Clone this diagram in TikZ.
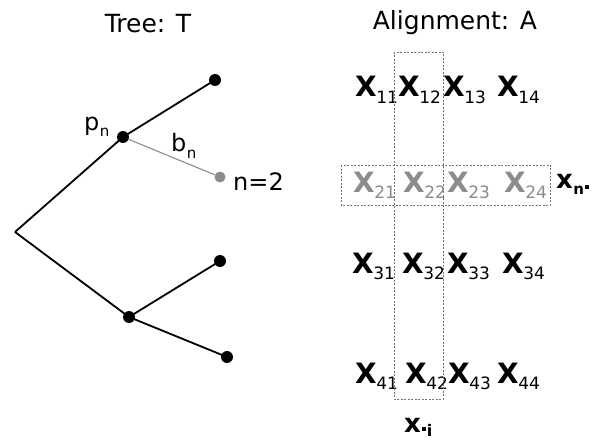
\documentclass[tikz,border=0pt]{standalone}
\usepackage{fontspec}
\setmainfont{DejaVu Sans}
\definecolor{lgray}{gray}{0.55}
\definecolor{bgray}{gray}{0.45}
\newcommand{\xsub}[2]{\textbf{#1}\kern-0.5pt\raisebox{-6pt}{\fontsize{17}{17}\selectfont #2}}
\newcommand{\lsub}[2]{#1\kern0.5pt\raisebox{-6pt}{\fontsize{15}{15}\selectfont #2}}
\newcommand{\sqdot}{\rule[5pt]{4pt}{4pt}}
\begin{document}
\begin{tikzpicture}[x=1pt,y=-1pt,
  dot/.style={circle,fill=black,inner sep=0pt,minimum size=12pt},
  gdot/.style={circle,fill=lgray,inner sep=0pt,minimum size=11pt},
  edge/.style={line width=1.8pt,black},
  gedge/.style={line width=1.1pt,lgray},
  title/.style={font=\fontsize{25}{25}\selectfont,anchor=base},
  lab/.style={font=\fontsize{24}{24}\selectfont,anchor=base west,inner sep=0pt},
  xel/.style={font=\fontsize{28}{28}\selectfont,anchor=base west,inner sep=0pt},
  gxel/.style={xel,text=lgray},
  rcl/.style={font=\fontsize{26}{26}\selectfont\bfseries,anchor=base west,inner sep=0pt},
  dbox/.style={draw=bgray,line width=0.7pt,dash pattern=on 2pt off 1.5pt}]
\useasboundingbox (0,0) rectangle (606,444);
% titles
\node[title] (tt) at (148,33) {Tree: T};
\node[title] (at) at (455,30) {Alignment: A};
% tree
\coordinate (root) at (15,232);
\node[dot] (pn) at (123,137) {};
\node[dot] (l1) at (215,80) {};
\node[gdot] (n2) at (220,177) {};
\node[dot] (q) at (129,317) {};
\node[dot] (l2) at (220,261) {};
\node[dot] (l3) at (227,357) {};
\draw[edge] (root) -- (pn.center) -- (l1.center);
\draw[edge] (root) -- (q.center) -- (l2.center);
\draw[edge] (q.center) -- (l3.center);
\draw[gedge] (pn) -- (n2);
\node[lab] (pnl) at (84,131) {\lsub{p}{n}};
\node[lab] (bnl) at (171,152) {\lsub{b}{n}};
\node[lab] (n2l) at (233,190) {n=2};
% alignment grid
\node[xel] (x11) at (355,97) {\xsub{X}{11}};
\node[xel] (x12) at (398,97) {\xsub{X}{12}};
\node[xel] (x13) at (443,97) {\xsub{X}{13}};
\node[xel] (x14) at (497,97) {\xsub{X}{14}};
\node[gxel] (x21) at (353,192) {\xsub{X}{21}};
\node[gxel] (x22) at (403,192) {\xsub{X}{22}};
\node[gxel] (x23) at (447,192) {\xsub{X}{23}};
\node[gxel] (x24) at (504,192) {\xsub{X}{24}};
\node[xel] (x31) at (352,273) {\xsub{X}{31}};
\node[xel] (x32) at (402,273) {\xsub{X}{32}};
\node[xel] (x33) at (447,273) {\xsub{X}{33}};
\node[xel] (x34) at (502,273) {\xsub{X}{34}};
\node[xel] (x41) at (355,383) {\xsub{X}{41}};
\node[xel] (x42) at (405,383) {\xsub{X}{42}};
\node[xel] (x43) at (448,383) {\xsub{X}{43}};
\node[xel] (x44) at (497,383) {\xsub{X}{44}};
% dashed boxes
\draw[dbox] (394,52) rectangle (443,399);
\draw[dbox] (341,165) rectangle (550,205);
% row / column labels
\node[rcl] (xn) at (556,188) {x\kern0.5pt\raisebox{-6pt}{\fontsize{15}{15}\selectfont n\kern1pt\sqdot}};
\node[rcl] (xi) at (404,432) {x\kern1pt\raisebox{-4pt}{\fontsize{16}{16}\selectfont\sqdot\kern1pt i}};
\end{tikzpicture}
\end{document}
